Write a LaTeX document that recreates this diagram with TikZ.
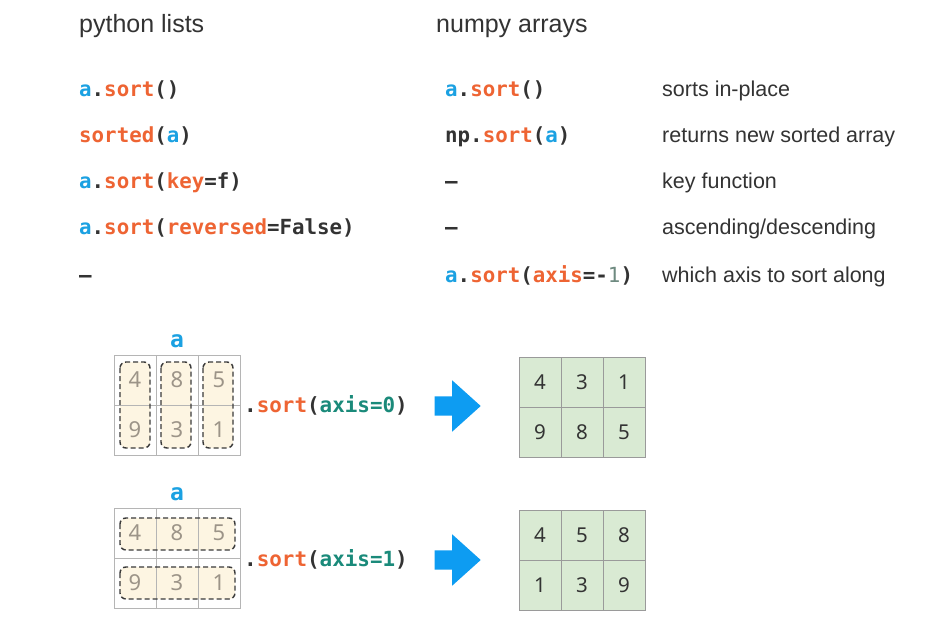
\documentclass[tikz,border=0pt]{standalone}
\usepackage{fontspec}
\setmainfont{Liberation Sans}
\newfontfamily\codefont{DejaVu Sans Mono}
\newfontfamily\numfont{Noto Sans}
\usetikzlibrary{shapes.arrows}
\definecolor{cblue}{HTML}{1BA1E2}
\definecolor{corange}{HTML}{EE6433}
\definecolor{cteal}{HTML}{1A8A7A}
\definecolor{cdark}{HTML}{333333}
\definecolor{cgray}{HTML}{6E8A80}
\definecolor{numgray}{HTML}{9C9488}
\definecolor{gridgray}{HTML}{B5B5B5}
\definecolor{outgray}{HTML}{9A9A9A}
\definecolor{cellgreen}{HTML}{D9EAD3}
\definecolor{cream}{HTML}{FDF5E2}
\definecolor{dashgray}{HTML}{3A3A3A}
\definecolor{arrowblue}{HTML}{0D9CF2}
\newcommand\cB[1]{\textcolor{cblue}{#1}}
\newcommand\cO[1]{\textcolor{corange}{#1}}
\newcommand\cT[1]{\textcolor{cteal}{#1}}
\begin{document}
\begin{tikzpicture}[x=1pt,y=-1pt,
  header/.style={anchor=base west, inner sep=0, text=cdark, font=\fontsize{25}{28}\selectfont},
  code/.style={anchor=base west, inner sep=0, text=cdark, font=\codefont\bfseries\fontsize{20.8}{24}\selectfont},
  desc/.style={anchor=base west, inner sep=0, text=cdark, font=\fontsize{21.5}{25}\selectfont},
  incell/.style={draw=gridgray, line width=1pt, minimum width=42pt, minimum height=50pt, inner sep=0, text=numgray, font=\numfont\fontsize{22}{24}\selectfont},
  outcell/.style={draw=outgray, fill=cellgreen, line width=1pt, minimum width=42pt, minimum height=50pt, inner sep=0, text=cdark, font=\numfont\fontsize{20.5}{24}\selectfont},
  dashbox/.style={draw=dashgray, dash pattern=on 5pt off 3pt, line width=1.4pt, rounded corners=6pt},
  creambox/.style={fill=cream, rounded corners=6pt},
  alabel/.style={inner sep=0, anchor=base, text=cblue, font=\codefont\bfseries\fontsize{23}{26}\selectfont},
  sortlabel/.style={anchor=base west, inner sep=0, text=cdark, font=\codefont\bfseries\fontsize{20.9}{24}\selectfont},
  bluearrow/.style={single arrow, fill=arrowblue, draw=none, minimum height=46pt, inner xsep=0pt, inner ysep=9.5pt, single arrow head extend=16pt, single arrow tip angle=84, anchor=tip}
]
\fill[white] (0,0) rectangle (945,628);
\useasboundingbox (0,0) rectangle (945,628);

% headers
\node[header] (h1) at (79,33) {python lists};
\node[header] (h2) at (436,33) {numpy arrays};

% left column
\node[code] (l1) at (79,97) {\cB{a}.\cO{sort}()};
\node[code] (l2) at (79,143) {\cO{sorted}(\cB{a})};
\node[code] (l3) at (79,189) {\cB{a}.\cO{sort}(\cO{key}=f)};
\node[code] (l4) at (79,235) {\cB{a}.\cO{sort}(\cO{reversed}=False)};
\node[code] (l5) at (79,283) {–};

% middle column
\node[code] (m1) at (445,97) {\cB{a}.\cO{sort}()};
\node[code] (m2) at (445,143) {np.\cO{sort}(\cB{a})};
\node[code] (m3) at (445,189) {–};
\node[code] (m4) at (445,235) {–};
\node[code] (m5) at (445,283) {\cB{a}.\cO{sort}(\cO{axis}=-{\mdseries\color{cgray}1})};

% descriptions
\node[desc] (d1) at (662,97) {sorts in-place};
\node[desc] (d2) at (662,143) {returns new sorted array};
\node[desc] (d3) at (662,189) {key function};
\node[desc] (d4) at (662,235) {ascending/descending};
\node[desc] (d5) at (662,283) {which axis to sort along};

% ---------- axis=0 example ----------
\node[alabel] (a1) at (177,347) {a};
\fill[creambox] (120,362) rectangle (150,448);
\fill[creambox] (161,362) rectangle (191,448);
\fill[creambox] (203,362) rectangle (233,448);
\node[incell] (p11) at (135,380) {4};
\node[incell] (p12) at (177,380) {8};
\node[incell] (p13) at (219,380) {5};
\node[incell] (p21) at (135,430) {9};
\node[incell] (p22) at (177,430) {3};
\node[incell] (p23) at (219,430) {1};
\draw[dashbox] (120,362) rectangle (150,448);
\draw[dashbox] (161,362) rectangle (191,448);
\draw[dashbox] (203,362) rectangle (233,448);
\node[sortlabel] (s1) at (244,412) {.\cO{sort}(\cT{axis=0})};
\node[bluearrow] (arr1) at (481,406) {};
\node[outcell] (q11) at (540,382) {4};
\node[outcell] (q12) at (582,382) {3};
\node[outcell] (q13) at (624,382) {1};
\node[outcell] (q21) at (540,432) {9};
\node[outcell] (q22) at (582,432) {8};
\node[outcell] (q23) at (624,432) {5};

% ---------- axis=1 example ----------
\node[alabel] (a2) at (177,500) {a};
\fill[creambox] (120,518) rectangle (235,550);
\fill[creambox] (120,567) rectangle (235,599);
\node[incell] (r11) at (135,533) {4};
\node[incell] (r12) at (177,533) {8};
\node[incell] (r13) at (219,533) {5};
\node[incell] (r21) at (135,583) {9};
\node[incell] (r22) at (177,583) {3};
\node[incell] (r23) at (219,583) {1};
\draw[dashbox] (120,518) rectangle (235,550);
\draw[dashbox] (120,567) rectangle (235,599);
\node[sortlabel] (s2) at (244,566) {.\cO{sort}(\cT{axis=1})};
\node[bluearrow] (arr2) at (481,560) {};
\node[outcell] (t11) at (540,535) {4};
\node[outcell] (t12) at (582,535) {5};
\node[outcell] (t13) at (624,535) {8};
\node[outcell] (t21) at (540,585) {1};
\node[outcell] (t22) at (582,585) {3};
\node[outcell] (t23) at (624,585) {9};
\end{tikzpicture}
\end{document}
